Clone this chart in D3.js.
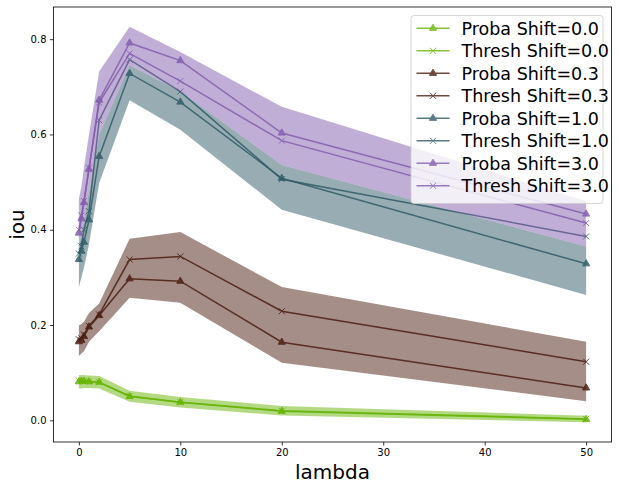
<!DOCTYPE html>
<html>
<head>
<meta charset="utf-8">
<script src="https://cdn.jsdelivr.net/npm/d3@7"></script>
<style>
  body { margin: 0; background: #fff; }
  text { font-family: "DejaVu Sans", sans-serif; }
</style>
</head>
<body>
<script>
// lambda values on x
const lambdas = [0, 0.25, 0.5, 1, 2, 5, 10, 20, 50];

// shift = 0.0
const probaShift0 = [0.081, 0.082, 0.082, 0.081, 0.080, 0.050, 0.038, 0.019, 0.002];
const threshShift0 = [0.083, 0.083, 0.082, 0.082, 0.080, 0.051, 0.038, 0.020, 0.003];
const bandLow0 = [0.067, 0.067, 0.068, 0.068, 0.067, 0.039, 0.027, 0.010, -0.004];
const bandHigh0 = [0.095, 0.095, 0.095, 0.094, 0.093, 0.062, 0.049, 0.030, 0.0096];

// shift = 0.3
const probaShift03 = [0.165, 0.168, 0.176, 0.196, 0.220, 0.297, 0.292, 0.164, 0.068];
const threshShift03 = [0.170, 0.172, 0.180, 0.198, 0.222, 0.3375, 0.344, 0.229, 0.123];
const bandLow03 = [0.135, 0.14, 0.145, 0.165, 0.187, 0.257, 0.247, 0.121, 0.040];
const bandHigh03 = [0.199, 0.202, 0.207, 0.225, 0.245, 0.381, 0.395, 0.280, 0.165];

// shift = 1.0
const probaShift1 = [0.3375, 0.355, 0.374, 0.421, 0.554, 0.728, 0.668, 0.508, 0.3285];
const threshShift1 = [0.350, 0.365, 0.400, 0.439, 0.630, 0.757, 0.690, 0.506, 0.386];
const bandLow1 = [0.28, 0.30, 0.32, 0.37, 0.498, 0.672, 0.610, 0.442, 0.263];
const bandHigh1 = [0.37, 0.39, 0.42, 0.48, 0.60, 0.745, 0.69, 0.536, 0.365];

// shift = 3.0
const probaShift3 = [0.393, 0.423, 0.457, 0.527, 0.672, 0.792, 0.755, 0.603, 0.433];
const threshShift3 = [0.400, 0.430, 0.460, 0.530, 0.667, 0.770, 0.712, 0.587, 0.414];
const bandLow3 = [0.37, 0.39, 0.42, 0.48, 0.60, 0.745, 0.69, 0.536, 0.365];
const bandHigh3 = [0.465, 0.49, 0.53, 0.60, 0.732, 0.826, 0.773, 0.658, 0.46];

const shiftLabels = ["0.0", "0.3", "1.0", "3.0"];
const colors = ["#67b507", "#4b1d11", "#315b67", "#835dad"];
const xTicks = [0, 10, 20, 30, 40, 50];
const yTicks = [0.0, 0.2, 0.4, 0.6, 0.8];

const groups = [
  {shift: shiftLabels[0], color: colors[0], proba: probaShift0, thresh: threshShift0, lo: bandLow0, hi: bandHigh0},
  {shift: shiftLabels[1], color: colors[1], proba: probaShift03, thresh: threshShift03, lo: bandLow03, hi: bandHigh03},
  {shift: shiftLabels[2], color: colors[2], proba: probaShift1, thresh: threshShift1, lo: bandLow1, hi: bandHigh1},
  {shift: shiftLabels[3], color: colors[3], proba: probaShift3, thresh: threshShift3, lo: bandLow3, hi: bandHigh3}
];

const width = 618, height = 489;
const margin = {left: 53.5, right: 6.5, top: 7, bottom: 47};

const x = d3.scaleLinear().domain([-2.5, 52.5]).range([margin.left, width - margin.right]);
const y = d3.scaleLinear().domain([-0.0455, 0.8675]).range([height - margin.bottom, margin.top]);

const svg = d3.select("body").append("svg")
  .attr("width", width)
  .attr("height", height);

const plot = svg.append("g");

const area = d3.area()
  .x(d => x(d.l))
  .y0(d => y(d.lo))
  .y1(d => y(d.hi));

const line = d3.line()
  .x(d => x(d.l))
  .y(d => y(d.v));

const tri = d3.symbol().type(d3.symbolTriangle).size(22);
const cross = "M-3,-3L3,3M-3,3L3,-3";

// bands first, then lines with markers per group
groups.forEach(g => {
  const bandData = lambdas.map((l, i) => ({l, lo: g.lo[i], hi: g.hi[i]}));
  plot.append("path")
    .datum(bandData)
    .attr("d", area)
    .attr("fill", g.color)
    .attr("fill-opacity", 0.5);

  const series = [
    {vals: g.proba, marker: "tri"},
    {vals: g.thresh, marker: "x"}
  ];
  series.forEach(s => {
    const pts = lambdas.map((l, i) => ({l, v: s.vals[i]}));
    const sg = plot.append("g").attr("opacity", 0.85);
    sg.append("path")
      .datum(pts)
      .attr("d", line)
      .attr("fill", "none")
      .attr("stroke", g.color)
      .attr("stroke-width", 1.5);
    sg.selectAll("path.m")
      .data(pts)
      .join("path")
      .attr("class", "m")
      .attr("transform", d => `translate(${x(d.l)},${y(d.v)})`)
      .attr("d", s.marker === "tri" ? tri() : cross)
      .attr("fill", s.marker === "tri" ? g.color : "none")
      .attr("stroke", g.color)
      .attr("stroke-width", 1);
  });
});

// axes
const xAxis = d3.axisBottom(x).tickValues(xTicks).tickFormat(d3.format("d")).tickSizeOuter(0).tickSize(3.5).tickPadding(3.5);
const yAxis = d3.axisLeft(y).tickValues(yTicks).tickFormat(d3.format(".1f")).tickSizeOuter(0).tickSize(3.5).tickPadding(3.5);

svg.append("g")
  .attr("transform", `translate(0,${height - margin.bottom})`)
  .call(xAxis)
  .call(g => g.select(".domain").remove())
  .selectAll("text").attr("font-size", 10).attr("fill", "#000").attr("font-family", "DejaVu Sans");

svg.append("g")
  .attr("transform", `translate(${margin.left},0)`)
  .call(yAxis)
  .call(g => g.select(".domain").remove())
  .selectAll("text").attr("font-size", 10).attr("fill", "#000").attr("font-family", "DejaVu Sans");

svg.selectAll(".tick line").attr("stroke", "#000").attr("stroke-width", 0.8);

// frame
svg.append("rect")
  .attr("x", margin.left)
  .attr("y", margin.top)
  .attr("width", width - margin.left - margin.right)
  .attr("height", height - margin.top - margin.bottom)
  .attr("fill", "none")
  .attr("stroke", "#000")
  .attr("stroke-width", 0.8);

// axis labels
svg.append("text")
  .attr("x", (margin.left + width - margin.right) / 2)
  .attr("y", 479)
  .attr("text-anchor", "middle")
  .attr("font-size", 20)
  .text("lambda");

svg.append("text")
  .attr("transform", `translate(24,${(margin.top + height - margin.bottom) / 2}) rotate(-90)`)
  .attr("text-anchor", "middle")
  .attr("font-size", 20)
  .text("iou");

// legend
const legendItems = [];
groups.forEach(g => {
  legendItems.push({label: "Proba Shift=" + g.shift, color: g.color, marker: "tri"});
  legendItems.push({label: "Thresh Shift=" + g.shift, color: g.color, marker: "x"});
});

const lg = svg.append("g");
lg.append("rect")
  .attr("x", 411)
  .attr("y", 15.5)
  .attr("width", 192)
  .attr("height", 188)
  .attr("rx", 3)
  .attr("fill", "#fff")
  .attr("fill-opacity", 0.8)
  .attr("stroke", "#ccc")
  .attr("stroke-width", 0.8);

legendItems.forEach((it, i) => {
  const cy = 28.3 + i * 22.5;
  const row = lg.append("g");
  const hg = row.append("g").attr("opacity", 0.8);
  hg.append("line")
    .attr("x1", 416.5).attr("x2", 449.5)
    .attr("y1", cy).attr("y2", cy)
    .attr("stroke", it.color).attr("stroke-width", 1.5);
  hg.append("path")
    .attr("transform", `translate(433,${cy})`)
    .attr("d", it.marker === "tri" ? tri() : cross)
    .attr("fill", it.marker === "tri" ? it.color : "none")
    .attr("stroke", it.color)
    .attr("stroke-width", 1);
  row.append("text")
    .attr("x", 461.5)
    .attr("y", cy)
    .attr("dy", "0.36em")
    .attr("font-size", 17.5)
    .attr("fill", "#000")
    .text(it.label);
});
</script>
</body>
</html>
